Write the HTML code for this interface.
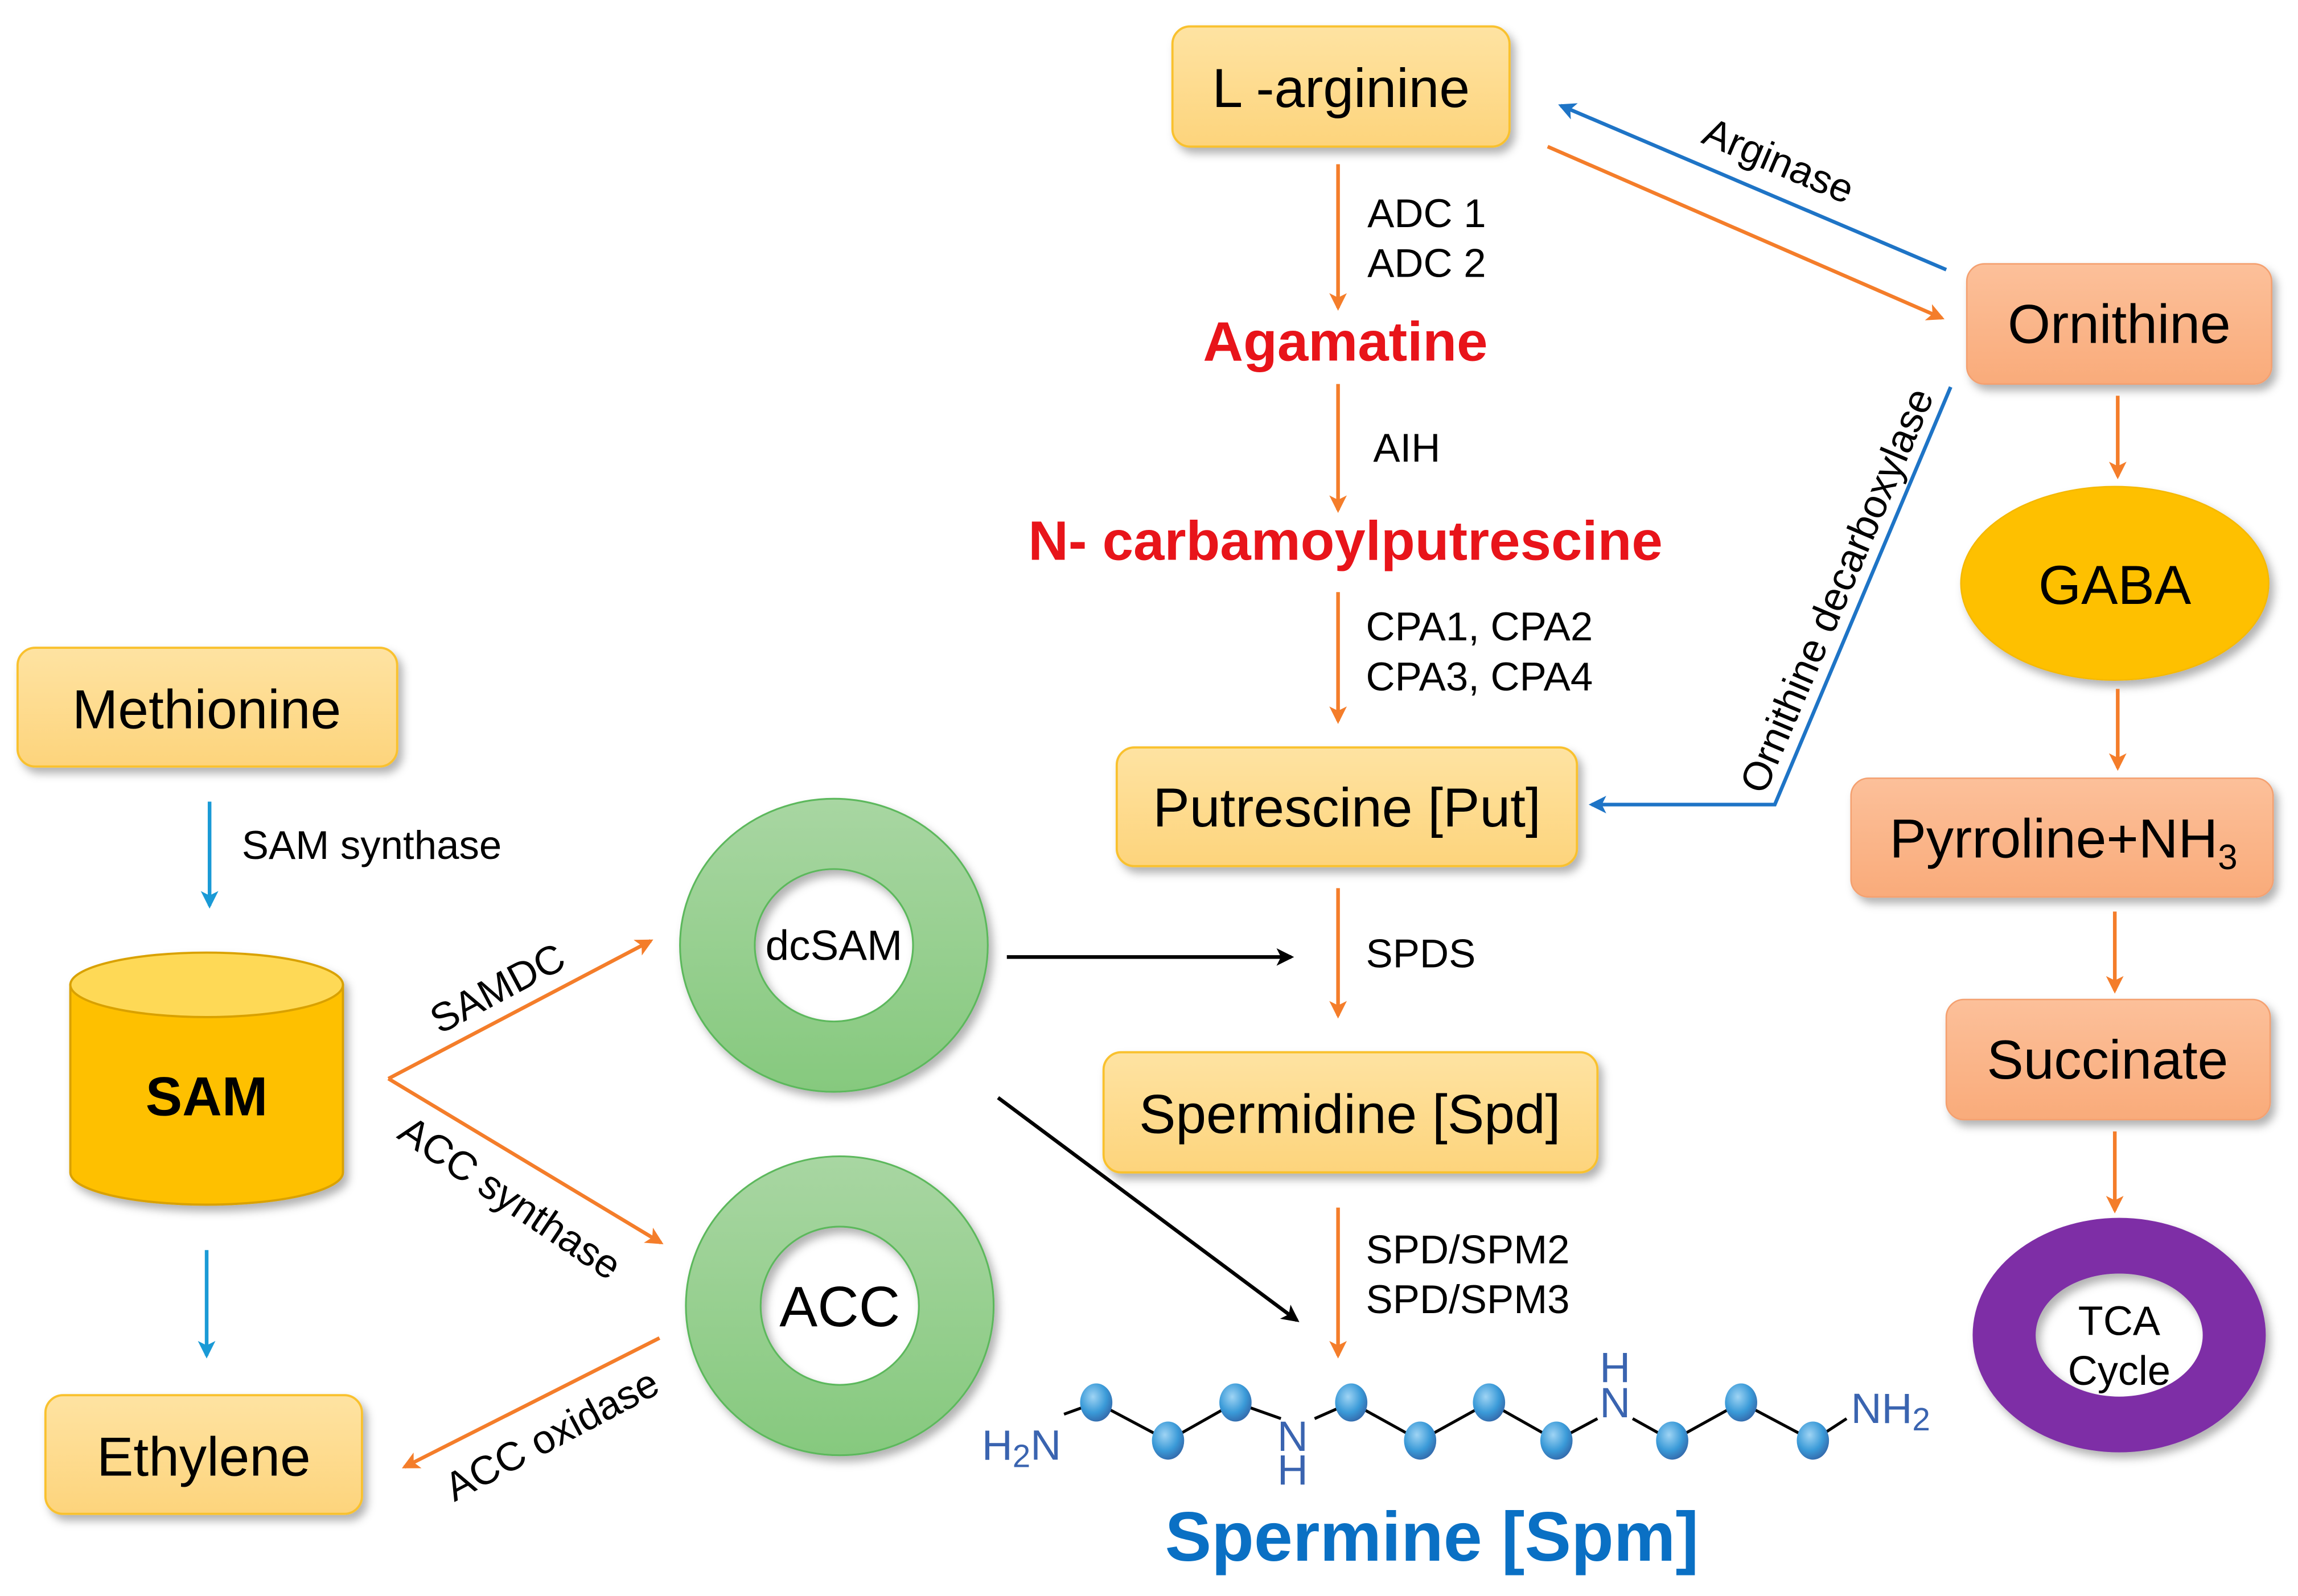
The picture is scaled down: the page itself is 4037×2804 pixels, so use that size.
<!DOCTYPE html>
<html><head><meta charset="utf-8"><style>html,body{margin:0;padding:0;background:#fff}svg{display:block}</style></head><body>
<svg width="4037" height="2804" viewBox="0 0 1568 1089" xmlns="http://www.w3.org/2000/svg" font-family="Liberation Sans, Arial, sans-serif">
<defs>
<linearGradient id="yb" x1="0" y1="0" x2="0" y2="1"><stop offset="0" stop-color="#fee3a2"/><stop offset="1" stop-color="#fdd47c"/></linearGradient>
<linearGradient id="sb" x1="0" y1="0" x2="0" y2="1"><stop offset="0" stop-color="#fcc09a"/><stop offset="1" stop-color="#f9ab7a"/></linearGradient>
<linearGradient id="gr" x1="0" y1="0" x2="0" y2="1"><stop offset="0" stop-color="#a8d6a2"/><stop offset="1" stop-color="#86c97e"/></linearGradient>
<radialGradient id="ball" cx="0.4" cy="0.35" r="0.7"><stop offset="0" stop-color="#9fd4f4"/><stop offset="0.6" stop-color="#3a9ad8"/><stop offset="1" stop-color="#3366a8"/></radialGradient>
<filter id="sh" x="-10%" y="-10%" width="130%" height="140%"><feDropShadow dx="3" dy="4" stdDeviation="3" flood-color="#000" flood-opacity="0.3"/></filter>
<marker id="ao" markerWidth="12" markerHeight="12" refX="10" refY="6" orient="auto" markerUnits="userSpaceOnUse"><path d="M0,0 L12,6 L0,12 L3,6z" fill="#f47d2a"/></marker>
<marker id="ab" markerWidth="12" markerHeight="12" refX="10" refY="6" orient="auto" markerUnits="userSpaceOnUse"><path d="M0,0 L12,6 L0,12 L3,6z" fill="#1e74c6"/></marker>
<marker id="ac" markerWidth="12" markerHeight="12" refX="10" refY="6" orient="auto" markerUnits="userSpaceOnUse"><path d="M0,0 L12,6 L0,12 L3,6z" fill="#1a9ad6"/></marker>
<marker id="ak" markerWidth="12" markerHeight="12" refX="10" refY="6" orient="auto" markerUnits="userSpaceOnUse"><path d="M0,0 L12,6 L0,12 L3,6z" fill="#000"/></marker>
</defs>
<g filter="url(#sh)" stroke="#f9c12e" stroke-width="1.5" fill="url(#yb)">
<rect x="800" y="18" width="230" height="82" rx="12"/>
<rect x="12" y="442" width="259" height="81" rx="12"/>
<rect x="762" y="510" width="314" height="81" rx="12"/>
<rect x="753" y="718" width="337" height="82" rx="12"/>
<rect x="31" y="952" width="216" height="81" rx="12"/>
</g>
<g filter="url(#sh)" fill="url(#sb)" stroke="#f4a070" stroke-width="1">
<rect x="1342" y="180" width="208" height="82" rx="12"/>
<rect x="1263" y="531" width="288" height="81" rx="12"/>
<rect x="1328" y="682" width="221" height="82" rx="12"/>
</g>
<ellipse cx="1443" cy="398" rx="105" ry="66" fill="#fec000" stroke="#f5b800" filter="url(#sh)"/>
<path fill-rule="evenodd" fill="#7e2fa6" filter="url(#sh)" d="M1346,911 a100,80 0 1,0 200,0 a100,80 0 1,0 -200,0z M1389,911 a57,42 0 1,0 114,0 a57,42 0 1,0 -114,0z"/>
<path fill-rule="evenodd" fill="url(#gr)" stroke="#5cb85c" stroke-width="1.2" filter="url(#sh)" d="M464,645 a105,100 0 1,0 210,0 a105,100 0 1,0 -210,0z M515,645 a54,52 0 1,0 108,0 a54,52 0 1,0 -108,0z"/>
<path fill-rule="evenodd" fill="url(#gr)" stroke="#5cb85c" stroke-width="1.2" filter="url(#sh)" d="M468,891 a105,102 0 1,0 210,0 a105,102 0 1,0 -210,0z M519,891 a54,54 0 1,0 108,0 a54,54 0 1,0 -108,0z"/>
<g filter="url(#sh)" stroke="#d9a100" stroke-width="1.5">
<path d="M48,672 L48,800 A93,22 0 0,0 234,800 L234,672z" fill="#fec000"/>
<ellipse cx="141" cy="672" rx="93" ry="22" fill="#fed956"/>
</g>
<g stroke="#f47d2a" stroke-width="2.5" fill="none" marker-end="url(#ao)">
<line x1="913" y1="112" x2="913" y2="210"/>
<line x1="913" y1="262" x2="913" y2="348"/>
<line x1="913" y1="404" x2="913" y2="492"/>
<line x1="913" y1="606" x2="913" y2="693"/>
<line x1="913" y1="824" x2="913" y2="925"/>
<line x1="1445" y1="270" x2="1445" y2="325"/>
<line x1="1445" y1="470" x2="1445" y2="524"/>
<line x1="1443" y1="622" x2="1443" y2="676"/>
<line x1="1443" y1="772" x2="1443" y2="826"/>
<line x1="1056" y1="100" x2="1325" y2="217"/>
<line x1="450" y1="913" x2="276" y2="1001"/>
<line x1="265" y1="736" x2="444" y2="642"/>
<line x1="265" y1="736" x2="451" y2="848"/>
</g>
<g stroke="#1e74c6" stroke-width="2.5" fill="none" marker-end="url(#ab)">
<line x1="1328" y1="184" x2="1065" y2="72"/>
<polyline points="1331,264 1211,549 1086,549"/>
</g>
<g stroke="#1a9ad6" stroke-width="2.5" marker-end="url(#ac)">
<line x1="143" y1="547" x2="143" y2="618"/>
<line x1="141" y1="853" x2="141" y2="925"/>
</g>
<g stroke="#000" stroke-width="2.5" marker-end="url(#ak)">
<line x1="687" y1="653" x2="881" y2="653"/>
<line x1="681" y1="749" x2="885" y2="901"/>
</g>
<g font-size="37.5" fill="#000" text-anchor="middle">
<text x="915" y="73">L -arginine</text>
<text x="141" y="497">Methionine</text>
<text x="919" y="564">Putrescine [Put]</text>
<text x="921" y="773">Spermidine [Spd]</text>
<text x="139" y="1007">Ethylene</text>
<text x="1446" y="234">Ornithine</text>
<text x="1443" y="412">GABA</text>
<text x="1408" y="585">Pyrroline+NH<tspan font-size="24" dy="8">3</tspan></text>
<text x="1438" y="736">Succinate</text>
<text x="141" y="761" font-weight="bold">SAM</text>
<text x="573" y="905" font-size="39">ACC</text>
<text x="569" y="655" font-size="29">dcSAM</text>
<text x="1446" y="911" font-size="28">TCA</text>
<text x="1446" y="945" font-size="28">Cycle</text>
</g>
<g font-size="38" font-weight="bold" fill="#e8141a" text-anchor="middle">
<text x="918" y="246">Agamatine</text>
<text x="918" y="382">N- carbamoylputrescine</text>
</g>
<g font-size="27.5" fill="#000">
<text x="933" y="155">ADC 1</text><text x="933" y="189">ADC 2</text>
<text x="937" y="315">AIH</text>
<text x="932" y="437">CPA1, CPA2</text><text x="932" y="471">CPA3, CPA4</text>
<text x="932" y="660">SPDS</text>
<text x="932" y="862">SPD/SPM2</text><text x="932" y="896">SPD/SPM3</text>
<text x="165" y="586">SAM synthase</text>
<text transform="translate(300,706) rotate(-28)">SAMDC</text>
<text transform="translate(270,776) rotate(34)">ACC synthase</text>
<text transform="translate(310,1025) rotate(-28)">ACC oxidase</text>
<text transform="translate(1160,97) rotate(23)">Arginase</text>
<text transform="translate(1204,543) rotate(-67)">Ornithine decarboxylase</text>
</g>
<g stroke="#000" stroke-width="2" fill="none">
<polyline points="726,965 748,957 797,983 843,957 874,968"/>
<polyline points="897,968 922,957 969,983 1016,957 1062,983 1090,968"/>
<polyline points="1114,968 1141,983 1188,957 1237,983 1260,968"/>
</g>
<g fill="url(#ball)">
<ellipse cx="748" cy="957" rx="11" ry="13"/><ellipse cx="797" cy="983" rx="11" ry="13"/>
<ellipse cx="843" cy="957" rx="11" ry="13"/><ellipse cx="922" cy="957" rx="11" ry="13"/>
<ellipse cx="969" cy="983" rx="11" ry="13"/><ellipse cx="1016" cy="957" rx="11" ry="13"/>
<ellipse cx="1062" cy="983" rx="11" ry="13"/><ellipse cx="1141" cy="983" rx="11" ry="13"/>
<ellipse cx="1188" cy="957" rx="11" ry="13"/><ellipse cx="1237" cy="983" rx="11" ry="13"/>
</g>
<g font-size="29" fill="#3a64b0" text-anchor="middle">
<text x="697" y="996">H<tspan font-size="22" dy="5">2</tspan><tspan dy="-5">N</tspan></text>
<text x="882" y="990">N</text><text x="882" y="1013">H</text>
<text x="1102" y="943">H</text><text x="1102" y="967">N</text>
<text x="1290" y="971">NH<tspan font-size="22" dy="5">2</tspan></text>
</g>
<text x="977" y="1065" font-size="47.5" font-weight="bold" fill="#0a70c4" text-anchor="middle">Spermine [Spm]</text>
</svg>
</body></html>
